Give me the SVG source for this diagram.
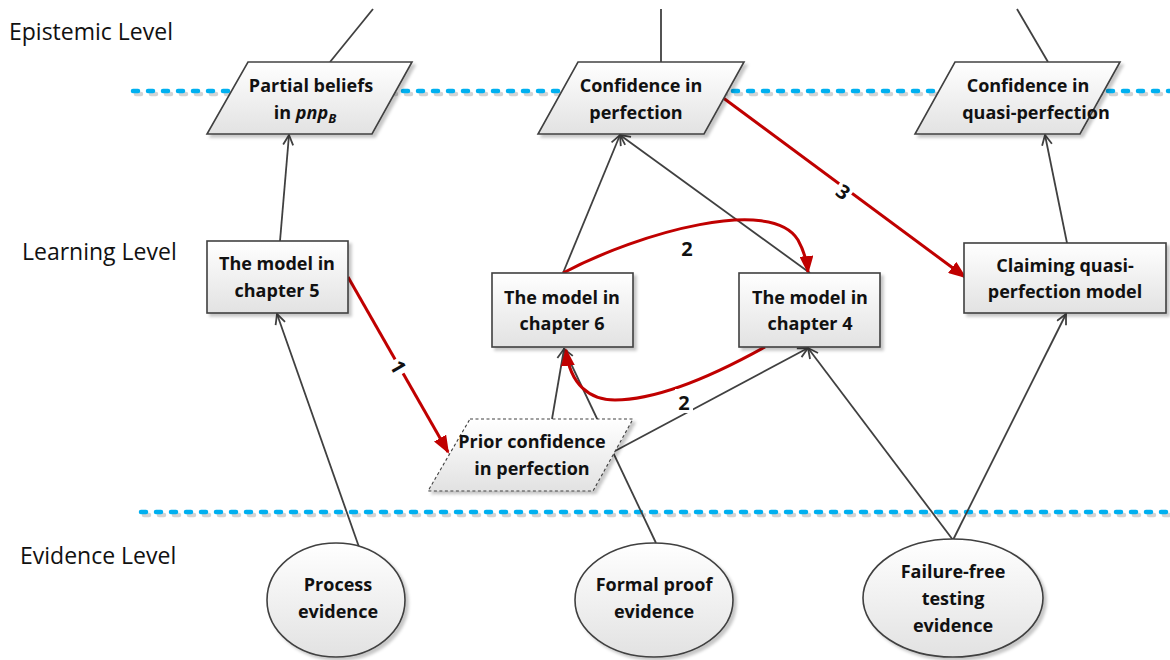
<svg xmlns="http://www.w3.org/2000/svg" width="1170" height="660" viewBox="0 0 1170 660">
  <style>
    .lvl { font-family: "Open Sans", Lato, sans-serif; font-size: 23px; fill: #111; }
    .lbl { font-family: "Open Sans", Lato, sans-serif; font-size: 18px; font-weight: bold; fill: #111; text-anchor: middle; }
    .num { font-family: "Open Sans", Lato, sans-serif; font-size: 20px; font-weight: bold; fill: #111; text-anchor: middle; }
    .shape { fill: url(#nodeFill); stroke: #404040; stroke-width: 1.6; filter: url(#shadow); }
    .dashed { stroke-dasharray: 3 2.5; stroke-width: 1.1; }
    .edge { fill: none; stroke: #404040; stroke-width: 1.8; }
    .red { fill: none; stroke: #c00000; stroke-width: 3; }
    .band { fill: none; stroke: #00b0f0; stroke-width: 4.5; stroke-linecap: round; stroke-dasharray: 5 10; }
    .bandShadow { fill: none; stroke: #d4d4d4; stroke-width: 4.5; stroke-linecap: round; stroke-dasharray: 5 10; }
  </style>
  <defs>
    <linearGradient id="nodeFill" x1="0" y1="0" x2="0" y2="1">
      <stop offset="0" stop-color="#ffffff"/>
      <stop offset="1" stop-color="#e2e2e2"/>
    </linearGradient>
    <filter id="shadow" x="-20%" y="-20%" width="140%" height="140%">
      <feDropShadow dx="3" dy="3" stdDeviation="1.8" flood-color="#000" flood-opacity="0.22"/>
    </filter>
    <marker id="openArrow" viewBox="0 0 12 12" refX="11" refY="6" markerWidth="12" markerHeight="12" markerUnits="userSpaceOnUse" orient="auto">
      <path d="M1,1 L11,6 L1,11" fill="none" stroke="#404040" stroke-width="1.8"/>
    </marker>
    <marker id="redArrow" viewBox="0 0 18 14" refX="16" refY="7" markerWidth="18" markerHeight="14" markerUnits="userSpaceOnUse" orient="auto">
      <path d="M0,0 L18,7 L0,14 z" fill="#c00000"/>
    </marker>
  </defs>

  <!-- level separators -->
  <g id="levels">
    <path class="bandShadow" d="M136,94 H1170"/>
    <path class="band" d="M133,91 H1170"/>
    <path class="bandShadow" d="M144,515 H1170"/>
    <path class="band" d="M141,512 H1170"/>
    <text class="lvl" x="9" y="40">Epistemic Level</text>
    <text class="lvl" x="22" y="260">Learning Level</text>
    <text class="lvl" x="20" y="564">Evidence Level</text>
  </g>

  <!-- connectors -->
  <g id="connectors">
    <path class="edge" d="M330,62 L373,9"/>
    <path class="edge" d="M661,62 L661,9"/>
    <path class="edge" d="M1048,62 L1017,9"/>
    <path class="edge" d="M280,241 L289,135" marker-end="url(#openArrow)"/>
    <path class="edge" d="M359,547 L277,314" marker-end="url(#openArrow)"/>
    <path class="edge" d="M563,273 L620,135" marker-end="url(#openArrow)"/>
    <path class="edge" d="M810,273 L620,135" marker-end="url(#openArrow)"/>
    <path class="edge" d="M552,419 L564,349" marker-end="url(#openArrow)"/>
    <path class="edge" d="M656,543 L564,349" marker-end="url(#openArrow)"/>
    <path class="edge" d="M615,451 L808,348" marker-end="url(#openArrow)"/>
    <path class="edge" d="M953,540 L808,348" marker-end="url(#openArrow)"/>
    <path class="edge" d="M953,540 L1066,314" marker-end="url(#openArrow)"/>
    <path class="edge" d="M1067,243 L1045,135" marker-end="url(#openArrow)"/>

    <!-- numbered red transitions -->
    <path class="red" d="M348,277 L448,452" marker-end="url(#redArrow)"/>
    <path class="red" d="M563,273 C640,232 772,196 798,240 C804,251 807,262 808,272" marker-end="url(#redArrow)"/>
    <path class="red" d="M765,347 C720,372 660,400 615,400 C590,400 570,385 566,350" marker-end="url(#redArrow)"/>
    <path class="red" d="M722,97 L965,277" marker-end="url(#redArrow)"/>

    <g transform="translate(398,367) rotate(60)">
      <rect x="-8" y="-12" width="16" height="24" fill="#fff"/>
      <text class="num" x="0" y="7">1</text>
    </g>
    <text class="num" x="687" y="256">2</text>
    <rect x="675" y="389" width="18" height="24" fill="#fff"/>
    <text class="num" x="684" y="410">2</text>
    <g transform="translate(843,192) rotate(37)">
      <rect x="-8" y="-12" width="16" height="24" fill="#fff"/>
      <text class="num" x="0" y="7">3</text>
    </g>
  </g>

  <!-- epistemic level -->
  <g id="partial-beliefs">
    <polygon class="shape" points="248,62 412,62 372,134 207,134"/>
    <text class="lbl" x="311" y="92">Partial beliefs</text>
    <text class="lbl" x="305" y="119">in <tspan font-style="italic">pnp</tspan><tspan font-style="italic" font-size="13" dy="4">B</tspan></text>
  </g>
  <g id="confidence-perfection">
    <polygon class="shape" points="578,62 744,62 704,134 538,134"/>
    <text class="lbl" x="641" y="92">Confidence in</text>
    <text class="lbl" x="636" y="119">perfection</text>
  </g>
  <g id="confidence-quasi">
    <polygon class="shape" points="955,62 1120,62 1080,134 915,134"/>
    <text class="lbl" x="1028" y="92">Confidence in</text>
    <text class="lbl" x="1036" y="119">quasi-perfection</text>
  </g>

  <!-- learning level -->
  <g id="model-ch5">
    <rect class="shape" x="207" y="241" width="141" height="72"/>
    <text class="lbl" x="277" y="270">The model in</text>
    <text class="lbl" x="277" y="297">chapter 5</text>
  </g>
  <g id="model-ch6">
    <rect class="shape" x="492" y="273" width="141" height="74"/>
    <text class="lbl" x="562" y="304">The model in</text>
    <text class="lbl" x="562" y="330">chapter 6</text>
  </g>
  <g id="model-ch4">
    <rect class="shape" x="739" y="273" width="141" height="74"/>
    <text class="lbl" x="810" y="304">The model in</text>
    <text class="lbl" x="810" y="330">chapter 4</text>
  </g>
  <g id="claiming-quasi">
    <rect class="shape" x="964" y="243" width="202" height="70"/>
    <text class="lbl" x="1065" y="272">Claiming quasi-</text>
    <text class="lbl" x="1065" y="298">perfection model</text>
  </g>
  <g id="prior-confidence">
    <polygon class="shape dashed" points="470,419 633,419 593,491 428,491"/>
    <text class="lbl" x="532" y="448">Prior confidence</text>
    <text class="lbl" x="532" y="475">in perfection</text>
  </g>

  <!-- evidence level -->
  <g id="process-evidence">
    <ellipse class="shape" cx="336" cy="600" rx="69" ry="57"/>
    <text class="lbl" x="338" y="591">Process</text>
    <text class="lbl" x="338" y="618">evidence</text>
  </g>
  <g id="formal-proof-evidence">
    <ellipse class="shape" cx="654" cy="600" rx="79" ry="57"/>
    <text class="lbl" x="654" y="591">Formal proof</text>
    <text class="lbl" x="654" y="618">evidence</text>
  </g>
  <g id="failure-free-evidence">
    <ellipse class="shape" cx="953" cy="598" rx="90" ry="59"/>
    <text class="lbl" x="953" y="578">Failure-free</text>
    <text class="lbl" x="953" y="605">testing</text>
    <text class="lbl" x="953" y="632">evidence</text>
  </g>
</svg>
